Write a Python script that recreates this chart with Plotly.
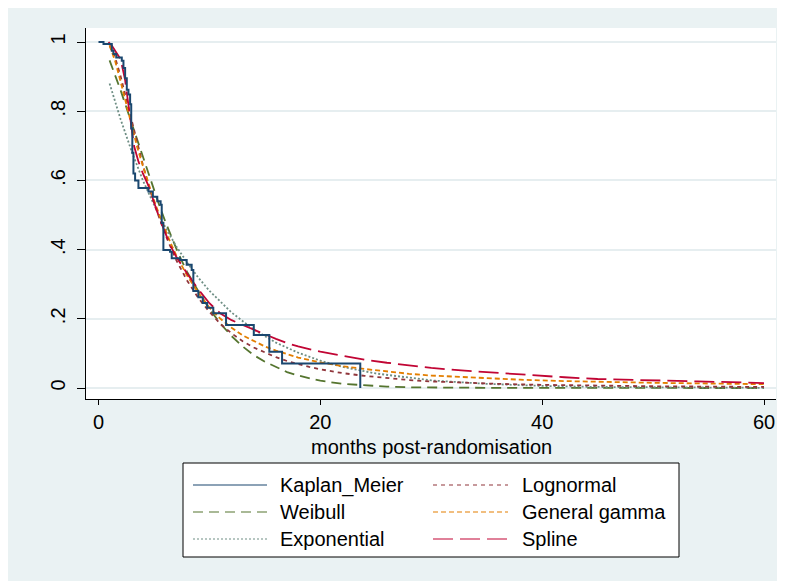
import plotly.graph_objects as go

# ---------------- data ----------------
series_names = ["Kaplan_Meier", "Weibull", "Exponential", "Lognormal", "General gamma", "Spline"]

km_t = [0, 0.45, 1.2, 1.35, 1.6, 2.1, 2.25, 2.4, 2.55, 2.7, 2.85, 2.95, 3.05, 3.15, 3.3, 3.6,
        4.5, 4.9, 5.3, 5.6, 5.7, 5.85, 6.45, 6.6, 7.35, 7.95, 8.4, 8.55, 9.0, 9.4, 9.8, 10.35,
        11.5, 14.0, 15.4, 16.55, 23.6]
km_s = [1.0, 0.994, 0.975, 0.965, 0.955, 0.946, 0.925, 0.895, 0.862, 0.848, 0.82, 0.75, 0.68,
        0.62, 0.60, 0.578, 0.568, 0.553, 0.54, 0.53, 0.477, 0.399, 0.394, 0.375, 0.37, 0.356,
        0.341, 0.28, 0.262, 0.246, 0.232, 0.216, 0.182, 0.153, 0.105, 0.071, 0.0]

weib_t = [1, 1.5, 2, 2.5, 3, 3.5, 4, 4.5, 5, 5.5, 6, 6.5, 7, 7.5, 8, 9, 10, 11, 12, 13, 14, 15,
          16, 17, 18, 19, 20, 22, 24, 26, 28, 30, 35, 40, 45, 50, 55, 60]
weib_s = [0.947, 0.905, 0.86, 0.812, 0.764, 0.714, 0.666, 0.617, 0.571, 0.526, 0.483, 0.442,
          0.404, 0.368, 0.335, 0.28, 0.228, 0.186, 0.15, 0.12, 0.095, 0.076, 0.06, 0.046,
          0.036, 0.028, 0.021, 0.012, 0.007, 0.004, 0.002, 0.001, 0.0005, 0.0002, 0.0001,
          0.0, 0.0, 0.0]

expo_t = [1, 2, 3, 4, 5, 6, 7, 8, 9, 10, 12, 14, 16, 18, 20, 22, 25, 30, 35, 40, 45, 50, 55, 60]
expo_s = [0.88, 0.776, 0.683, 0.60, 0.53, 0.466, 0.41, 0.362, 0.319, 0.281, 0.218, 0.169,
          0.131, 0.102, 0.079, 0.061, 0.042, 0.022, 0.012, 0.006, 0.003, 0.002, 0.001, 0.0005]

logn_t = [1, 1.5, 2, 2.5, 3, 3.5, 4, 4.5, 5, 6, 7, 8, 9, 10, 11, 12, 13, 14, 15, 16, 17, 18,
          19, 20, 22, 24, 26, 28, 30, 33, 36, 40, 45, 50, 55, 60]
logn_s = [0.99, 0.955, 0.9, 0.835, 0.77, 0.705, 0.645, 0.588, 0.535, 0.445, 0.37, 0.31, 0.26,
          0.22, 0.185, 0.158, 0.135, 0.117, 0.102, 0.089, 0.078, 0.069, 0.061, 0.054, 0.043,
          0.035, 0.028, 0.023, 0.019, 0.015, 0.012, 0.009, 0.006, 0.005, 0.004, 0.003]

gam_t = [1, 1.5, 2, 2.5, 3, 3.5, 4, 4.5, 5, 5.5, 6, 6.5, 7, 7.5, 8, 9, 10, 11, 12, 13, 14, 15,
         16, 17, 18, 20, 22, 24, 26, 28, 30, 34, 38, 42, 46, 50, 55, 60]
gam_s = [0.99, 0.945, 0.885, 0.82, 0.755, 0.695, 0.642, 0.59, 0.543, 0.499, 0.457, 0.419,
         0.384, 0.352, 0.324, 0.275, 0.232, 0.2, 0.174, 0.152, 0.135, 0.12, 0.108, 0.097,
         0.088, 0.074, 0.063, 0.055, 0.047, 0.041, 0.036, 0.029, 0.024, 0.02, 0.017, 0.015,
         0.013, 0.011]

spl_t = [0.9, 1.2, 1.6, 2, 2.4, 2.8, 3.2, 3.6, 4, 4.5, 5, 5.5, 6, 6.5, 7, 7.5, 8, 9, 10, 11,
         12, 13, 14, 15, 16, 17, 18, 20, 22, 24, 26, 28, 30, 33, 36, 39, 42, 45, 48, 51, 54,
         57, 60]
spl_s = [1.0, 0.99, 0.97, 0.95, 0.89, 0.80, 0.70, 0.655, 0.62, 0.585, 0.535, 0.49, 0.45,
         0.41, 0.38, 0.355, 0.33, 0.285, 0.245, 0.215, 0.196, 0.182, 0.168, 0.155, 0.142,
         0.13, 0.12, 0.105, 0.093, 0.082, 0.073, 0.065, 0.058, 0.05, 0.043, 0.036, 0.031,
         0.026, 0.023, 0.021, 0.019, 0.017, 0.014]

x_ticks = [0, 20, 40, 60]
y_ticks = [0, 0.2, 0.4, 0.6, 0.8, 1]
y_tick_labels = ["0", ".2", ".4", ".6", ".8", "1"]
x_title = "months post-randomisation"

# ---------------- styling ----------------
W, H = 785, 581
OFF = 8  # page body margin
ML, MR, MT, MB = 78, 17, 20, 190
PW, PH = W - ML - MR, H - MT - MB
FONT = "Liberation Sans, Arial, sans-serif"
BG = "#EAF2F3"

styles = {
    "Kaplan_Meier": dict(color="#1a476f", dash="solid", width=2.0, shape="hv"),
    "Weibull": dict(color="#55752f", dash="10px,6px", width=1.8, shape="linear"),
    "Exponential": dict(color="#6e8e84", dash="2px,2px", width=1.8, shape="linear"),
    "Lognormal": dict(color="#90353b", dash="4px,4px", width=1.8, shape="linear"),
    "General gamma": dict(color="#e37e00", dash="5px,3px", width=1.8, shape="linear"),
    "Spline": dict(color="#c10534", dash="20px,7px", width=1.8, shape="linear"),
}
data = {
    "Kaplan_Meier": (km_t, km_s),
    "Weibull": (weib_t, weib_s),
    "Exponential": (expo_t, expo_s),
    "Lognormal": (logn_t, logn_s),
    "General gamma": (gam_t, gam_s),
    "Spline": (spl_t, spl_s),
}
draw_order = ["Weibull", "Exponential", "Lognormal", "General gamma", "Spline", "Kaplan_Meier"]

fig = go.Figure()
for name in draw_order:
    t, s = data[name]
    st = styles[name]
    fig.add_trace(go.Scatter(
        x=t, y=s, mode="lines", name=name, showlegend=False,
        line=dict(color=st["color"], dash=st["dash"], width=st["width"], shape=st["shape"]),
    ))

def pxx(x):  # page pixel -> paper
    return (x - OFF - ML) / PW

def pyy(y):
    return (H - MB - (y - OFF)) / PH

# manual legend (Stata-style two-column box)
shapes = [dict(type="rect", xref="paper", yref="paper",
               x0=pxx(183), x1=pxx(679), y0=pyy(557), y1=pyy(463),
               line=dict(color="black", width=1), fillcolor="white", layer="above")]
annotations = [dict(text=x_title, xref="paper", yref="paper", x=0.5, y=pyy(447),
                    xanchor="center", yanchor="middle", showarrow=False,
                    font=dict(family=FONT, size=20, color="black"))]
legend_cols = [["Kaplan_Meier", "Weibull", "Exponential"], ["Lognormal", "General gamma", "Spline"]]
col_x = [(193, 267, 278), (433, 508, 520)]
row_y = [485, 512, 539]
for ci, col in enumerate(legend_cols):
    lx0, lx1, tx = col_x[ci]
    for ri, name in enumerate(col):
        st = styles[name]
        yy = pyy(row_y[ri])
        shapes.append(dict(type="line", xref="paper", yref="paper",
                           x0=pxx(lx0), x1=pxx(lx1), y0=yy, y1=yy,
                           line=dict(color=st["color"], width=1.2, dash=st["dash"]),
                           layer="above"))
        annotations.append(dict(text=name, xref="paper", yref="paper", x=pxx(tx), y=yy,
                                xanchor="left", yanchor="middle", showarrow=False,
                                font=dict(family=FONT, size=20, color="black")))

fig.update_layout(
    width=W, height=H,
    margin=dict(l=ML, r=MR, t=MT, b=MB, pad=0),
    paper_bgcolor=BG, plot_bgcolor="white",
    font=dict(family=FONT, size=20, color="black"),
    showlegend=False,
    shapes=shapes, annotations=annotations,
    xaxis=dict(range=[-1.127, 61.08], tickvals=x_ticks, ticks="outside", ticklen=5,
               tickcolor="black", showline=True, linecolor="black", linewidth=1,
               showgrid=False, zeroline=False,
               tickfont=dict(size=20), automargin=False),
    yaxis=dict(range=[-0.0318, 1.0405], tickvals=y_ticks, ticktext=y_tick_labels,
               tickangle=-90, ticks="outside", ticklen=8, tickcolor="black",
               showline=True, linecolor="black", linewidth=1, ticklabelstandoff=4,
               showgrid=True, gridcolor="#E6EEF0", gridwidth=1.5, zeroline=False,
               tickfont=dict(size=20), automargin=False),
)

fig.write_html("out.html")
